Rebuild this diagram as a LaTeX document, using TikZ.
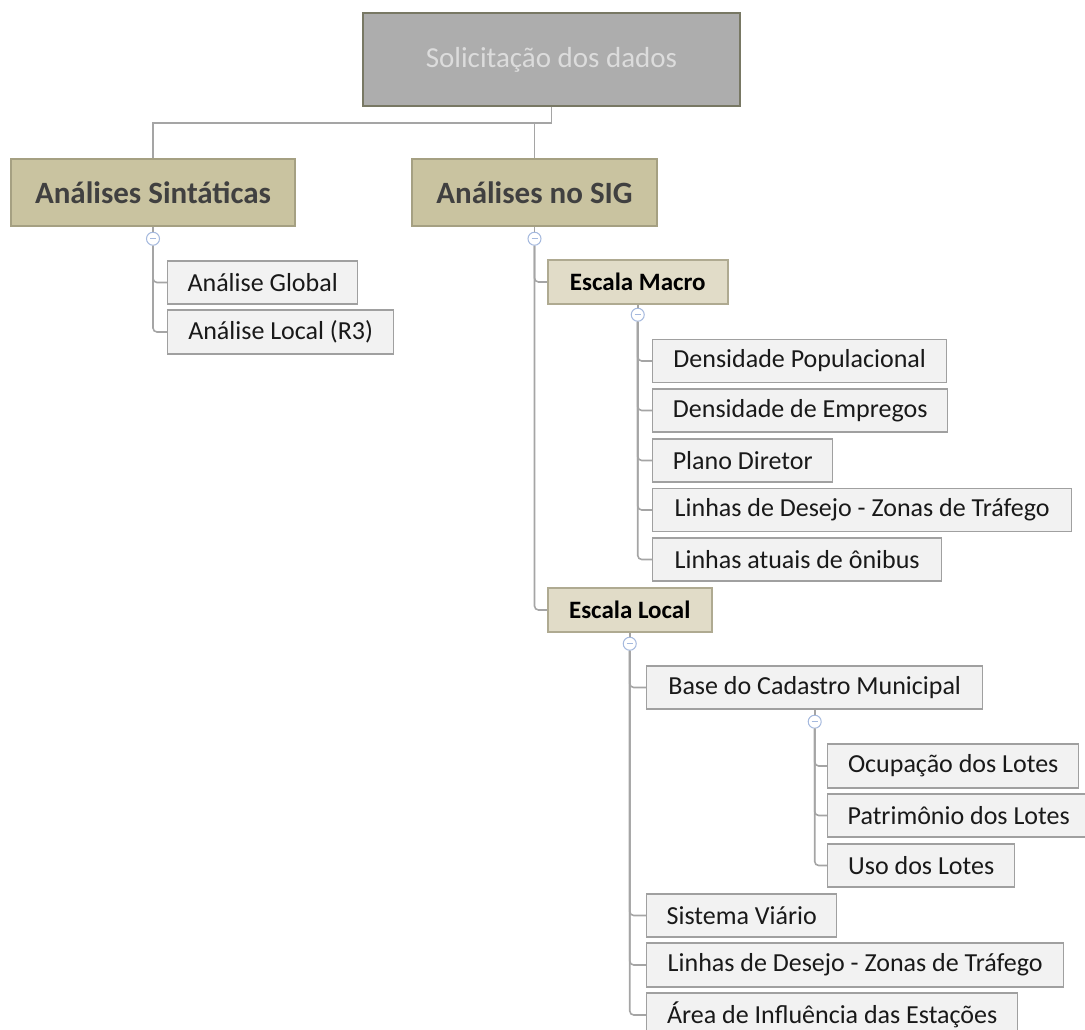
\documentclass[tikz,border=0pt]{standalone}
\usepackage{fontspec}
\setmainfont{Carlito}
\usepackage{tikz}
\usetikzlibrary{positioning}

\definecolor{rootfill}{RGB}{173,173,173}
\definecolor{rootline}{RGB}{120,120,100}
\definecolor{roottext}{RGB}{220,220,220}
\definecolor{mainfill}{RGB}{201,195,160}
\definecolor{mainline}{RGB}{165,160,130}
\definecolor{maintext}{RGB}{64,64,64}
\definecolor{scalefill}{RGB}{225,220,200}
\definecolor{scaleline}{RGB}{175,170,145}
\definecolor{itemfill}{RGB}{242,242,242}
\definecolor{itemline}{RGB}{160,160,160}
\definecolor{linkcol}{RGB}{165,165,165}
\definecolor{togglecol}{RGB}{165,185,222}

\tikzset{
  rootbox/.style={shape=rectangle,draw=rootline,fill=rootfill,text=roottext,line width=1.5pt,inner sep=0pt,font=\fontsize{29}{34}\selectfont},
  mainbox/.style={shape=rectangle,draw=mainline,fill=mainfill,text=maintext,line width=1.5pt,inner sep=0pt,minimum height=67pt,font=\fontsize{31}{37}\selectfont\bfseries},
  scalebox/.style={shape=rectangle,draw=scaleline,fill=scalefill,line width=1.5pt,inner sep=0pt,minimum height=44pt,anchor=west,font=\fontsize{25}{30}\selectfont\bfseries},
  itembox/.style={shape=rectangle,draw=itemline,fill=itemfill,text={rgb,255:red,25;green,25;blue,25},line width=1.4pt,inner sep=0pt,minimum height=43pt,anchor=west,font=\fontsize{26}{31}\selectfont},
  toggle/.style={shape=circle,draw=togglecol,fill=white,line width=1pt,minimum size=13pt,inner sep=0pt,
    path picture={\draw[togglecol,line width=1pt] ([xshift=-3pt]path picture bounding box.center) -- ([xshift=3pt]path picture bounding box.center);}},
  link/.style={draw=linkcol,line width=1.6pt,rounded corners=4pt}
}

\begin{document}
\begin{tikzpicture}[x=1pt,y=-1pt]
\useasboundingbox (0,0) rectangle (1085,1030);
% top of the tree
\node(root)[rootbox,minimum width=377pt,minimum height=93pt] at (551.5,59.5){Solicitação dos dados};
\node(sin)[mainbox,minimum width=284pt] at (153,192.5){Análises Sintáticas};
\node(sig)[mainbox,minimum width=245pt] at (534.5,192.5){Análises no SIG};
\draw[link,rounded corners=0pt] (root.south) -- ++(0,16) -| (sin.north);
\draw[link,rounded corners=0pt] (root.south) -- ++(0,16) -| (sig.north);

% syntactic analyses
\node(glob)[itembox,minimum width=190pt] at (167,282.5){Análise Global};
\node(loc)[itembox,minimum width=226pt,minimum height=44pt] at (167,332){Análise Local (R3)};

% GIS analyses
\node(macro)[scalebox,minimum width=180pt] at (547,282){Escala Macro};
\node(dpop)[itembox,minimum width=294pt] at (652,361){Densidade Populacional};
\node(demp)[itembox,minimum width=295pt] at (652,410.5){Densidade de Empregos};
\node(plano)[itembox,minimum width=180pt] at (652,460.5){Plano Diretor};
\node(lin1)[itembox,minimum width=419pt] at (652,510){Linhas de Desejo - Zonas de Tráfego};
\node(atu)[itembox,minimum width=289pt] at (652,559.5){Linhas atuais de ônibus};
\node(escloc)[scalebox,minimum width=164pt] at (547,610){Escala Local};
\node(base)[itembox,minimum width=336pt] at (646,687.5){Base do Cadastro Municipal};
\node(ocup)[itembox,minimum width=251pt,minimum height=44pt] at (827,766){Ocupação dos Lotes};
\node(patr)[itembox,minimum width=262pt] at (827,815.5){Patrimônio dos Lotes};
\node(uso)[itembox,minimum width=187pt] at (827,865.5){Uso dos Lotes};
\node(sist)[itembox,minimum width=190pt] at (646,915.5){Sistema Viário};
\node(lin2)[itembox,minimum width=417pt,minimum height=44pt] at (646,965){Linhas de Desejo - Zonas de Tráfego};
\node(area)[itembox,minimum width=371pt,minimum height=44pt] at (646,1015){Área de Influência das Estações};

% collapse buttons
\node(tsin)[toggle,below=5pt of sin]{};
\node(tsig)[toggle,below=5pt of sig]{};
\node(tmac)[toggle,below=3pt of macro]{};
\node(tloc)[toggle,below=4pt of escloc]{};
\node(tbase)[toggle,below=5pt of base]{};

\draw[link] (sin) -- (tsin);
\draw[link] (sig) -- (tsig);
\draw[link] (macro) -- (tmac);
\draw[link] (escloc) -- (tloc);
\draw[link] (base) -- (tbase);

\foreach \c in {glob,loc} \draw[link] (tsin.south) |- (\c.west);
\foreach \c in {macro,escloc} \draw[link] (tsig.south) |- (\c.west);
\foreach \c in {dpop,demp,plano,lin1,atu} \draw[link] (tmac.south) |- (\c.west);
\foreach \c in {base,sist,lin2,area} \draw[link] (tloc.south) |- (\c.west);
\foreach \c in {ocup,patr,uso} \draw[link] (tbase.south) |- (\c.west);
\end{tikzpicture}
\end{document}
